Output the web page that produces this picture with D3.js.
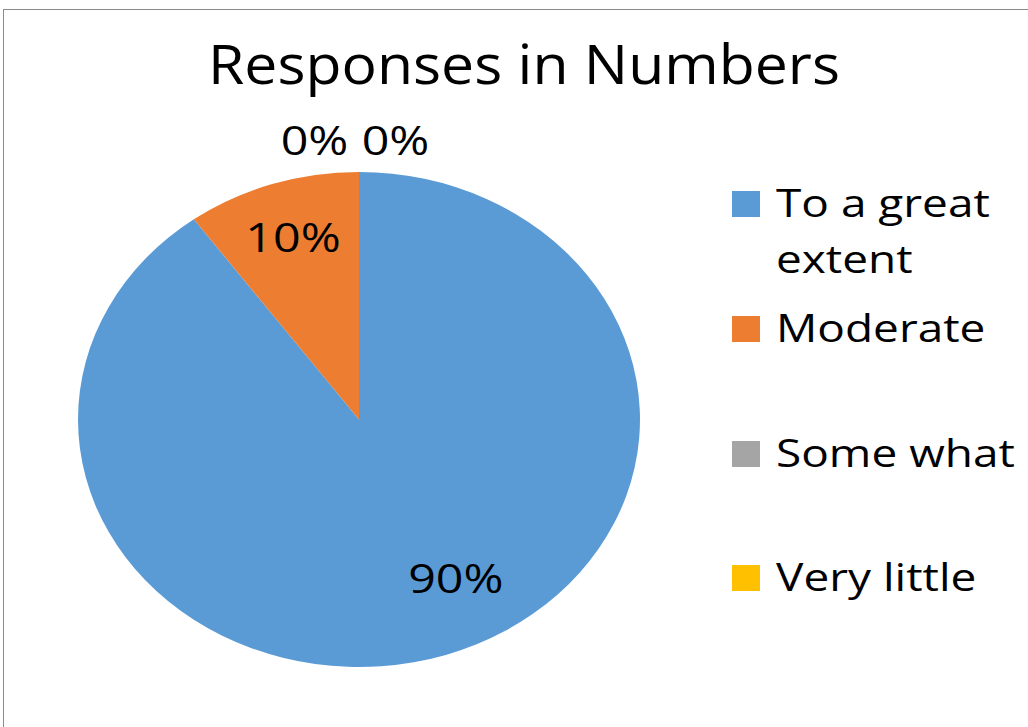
<!DOCTYPE html>
<html><head><meta charset="utf-8">
<script src="https://cdn.jsdelivr.net/npm/d3@7"></script>
<style>html,body{margin:0;padding:0;background:#fff;overflow:hidden}</style>
</head><body>
<svg id="chart" width="1028" height="727"></svg>
<script>
const categories = ["To a great extent", "Moderate", "Some what", "Very little"];
const values = [90, 10, 0, 0];
const legendLines = [["To a great", "extent"], ["Moderate"], ["Some what"], ["Very little"]];
const colors = ["#5B9BD5", "#ED7D31", "#A5A5A5", "#FFC000"];
const title = "Responses in Numbers";

const svg = d3.select("#chart");
const FONT = "'Open Sans', 'Noto Sans', sans-serif";
const SX = 1.21; // horizontal stretch of the source image

// frame
svg.append("rect").attr("x", 3.5).attr("y", 9.5).attr("width", 1100).attr("height", 800)
  .attr("fill", "#fff").attr("stroke", "#8a8a8a").attr("stroke-width", 1);

// title
svg.append("text").attr("x", 524).attr("y", 84).attr("text-anchor", "middle")
  .attr("font-family", FONT).attr("font-size", 55).attr("fill", "#000")
  .attr("textLength", 632).attr("lengthAdjust", "spacingAndGlyphs")
  .text(title);

// pie (elliptical: circle scaled)
const cx = 359, cy = 419.5, rx = 281, ry = 247.5, R = 100;
const total = d3.sum(values);
const pie = d3.pie().sort(null).value(d => d)(values);
const arc = d3.arc().innerRadius(0).outerRadius(R);
const g = svg.append("g").attr("transform", `translate(${cx},${cy}) scale(${rx / R},${ry / R})`);
g.selectAll("path").data(pie).enter().append("path")
  .attr("d", arc).attr("fill", (d, i) => colors[i]);

// data labels
const fmt = v => Math.round(v / total * 100) + "%";
function ellPoint(angle, f) {
  return [cx + Math.sin(angle) * rx * f, cy - Math.cos(angle) * ry * f];
}
let zeroIdx = 0;
const zeroCount = values.filter(v => v === 0).length;
pie.forEach((d, i) => {
  let x, y;
  const mid = (d.startAngle + d.endAngle) / 2;
  if (d.value === 0) {
    const p = ellPoint(mid, 1);
    x = p[0] + (zeroIdx - (zeroCount - 1) / 2) * 81 - 4;
    y = p[1] - 17;
    zeroIdx++;
  } else {
    const big = (d.endAngle - d.startAngle) > Math.PI;
    const p = ellPoint(big ? mid - 0.17 : mid, big ? 0.74 : 0.76);
    x = p[0]; y = p[1] + 11;
  }
  svg.append("text").attr("transform", `translate(${x},${y}) scale(${SX},1)`)
    .attr("text-anchor", "middle")
    .attr("font-family", FONT).attr("font-size", 40).attr("fill", "#000")
    .text(fmt(d.value));
});

// legend
const legendY = [217, 342, 467, 591];
const lg = svg.append("g");
categories.forEach((c, i) => {
  lg.append("rect").attr("x", 732).attr("y", legendY[i] - 26).attr("width", 28).attr("height", 26)
    .attr("fill", colors[i]);
  const t = lg.append("text").attr("transform", `translate(776,${legendY[i]}) scale(${SX},1)`)
    .attr("font-family", FONT).attr("font-size", 38).attr("fill", "#000");
  legendLines[i].forEach((ln, j) => {
    t.append("tspan").attr("x", 0).attr("dy", j === 0 ? 0 : 56).text(ln);
  });
});
</script>
</body></html>
